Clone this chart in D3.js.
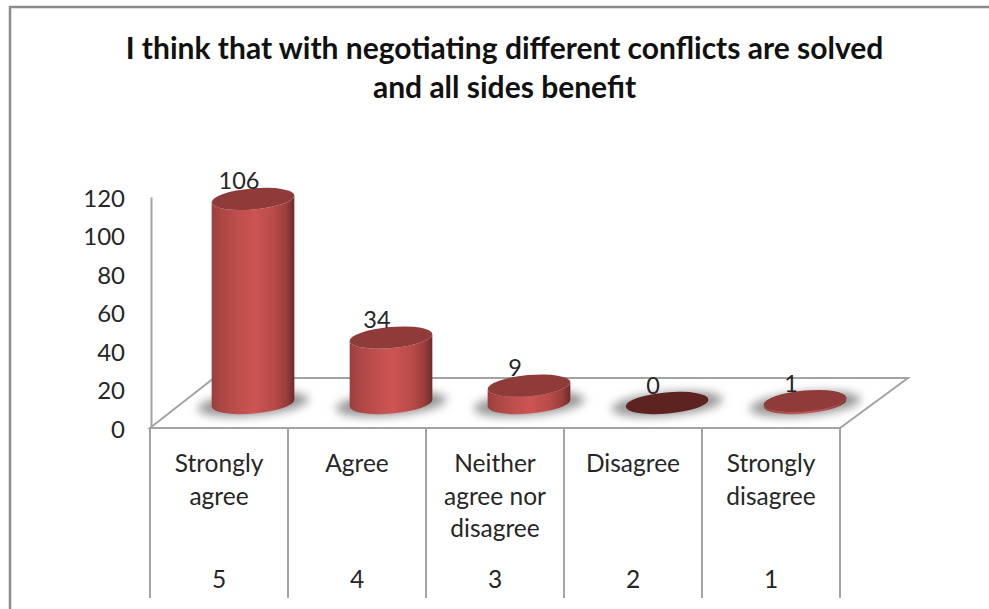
<!DOCTYPE html>
<html>
<head>
<meta charset="utf-8">
<script src="https://cdn.jsdelivr.net/npm/d3@7"></script>
<style>
  html, body { margin: 0; padding: 0; background: #fff; }
  svg { display: block; }
  text { font-family: Lato, "Open Sans", sans-serif; fill: #262626; }
</style>
</head>
<body>
<svg id="chart" width="989" height="609"></svg>
<script>
const titleLines = ["I think that with negotiating different conflicts are solved", "and all sides benefit"];
const categories = [
  ["Strongly", "agree"],
  ["Agree"],
  ["Neither", "agree nor", "disagree"],
  ["Disagree"],
  ["Strongly", "disagree"]
];
const ratings = ["5", "4", "3", "2", "1"];
const counts = [106, 34, 9, 0, 1];
const yTicks = [0, 20, 40, 60, 80, 100, 120];

const svg = d3.select("#chart");
const gridColor = "#a3a3a3";

const x = d3.scaleBand().domain(ratings).range([150, 840]);
const y = d3.scaleLinear().domain([0, 120]).range([428, 197]);

// Depth of the floor, and where the cylinders stand on it
const floorDepth = { dx: 64, dy: 50 };
const standX = 34, standY = 25;
const rx = 41.5, ry = 10.6, tilt = -5;
const tiltRad = tilt * Math.PI / 180;
const ex = rx * Math.cos(tiltRad), ey = rx * Math.sin(tiltRad);

const defs = svg.append("defs");
const grad = defs.append("linearGradient").attr("id", "side").attr("x1", 0).attr("x2", 1).attr("y1", 0).attr("y2", 0);
[[0, "#9a3e3c"], [0.1, "#aa4644"], [0.3, "#bd4e4c"], [0.52, "#cd5452"], [0.75, "#b84b49"], [0.9, "#9a3e3c"], [1, "#702a28"]]
  .forEach(([o, c]) => grad.append("stop").attr("offset", o).attr("stop-color", c));
defs.append("filter").attr("id", "soft").attr("x", "-30%").attr("y", "-100%").attr("width", "160%").attr("height", "300%")
  .append("feGaussianBlur").attr("stdDeviation", 5);

// Chart frame: only the top and left edges fall inside the page
svg.append("path")
  .attr("d", d3.line()([[989, 7], [10, 7], [10, 609]]))
  .attr("fill", "none").attr("stroke", "#8c8c8c").attr("stroke-width", 2.5);

// Title
svg.append("g").selectAll("text").data(titleLines).join("text")
  .attr("x", 504.5).attr("y", (d, i) => 59 + i * 38.5)
  .attr("text-anchor", "middle").attr("font-size", 30).attr("font-weight", 700)
  .style("fill", "#111").text(d => d);

// Floor parallelogram
const [x0, x1] = x.range();
const y0 = y(0);
svg.append("path")
  .attr("d", d3.line()([[x0, y0], [x0 + floorDepth.dx, y0 - floorDepth.dy], [x1 + floorDepth.dx + 4, y0 - floorDepth.dy], [x1, y0]]) + "Z")
  .attr("fill", "#fff").attr("stroke", gridColor).attr("stroke-width", 2);

// Value axis
const yAxis = svg.append("g").attr("transform", `translate(${x0 + 1},0)`)
  .call(d3.axisLeft(y).tickValues(yTicks).tickSize(0).tickPadding(26));
yAxis.select(".domain").attr("stroke", gridColor).attr("stroke-width", 2);
yAxis.selectAll("text").attr("font-size", 24).attr("dy", "0.38em").style("font-family", "Lato, sans-serif");

// Category table beneath the floor
const cuts = ratings.map(r => x(r)).concat([x1]);
svg.append("g").selectAll("line").data(cuts).join("line")
  .attr("x1", d => d).attr("x2", d => d).attr("y1", y0).attr("y2", 598)
  .attr("stroke", gridColor).attr("stroke-width", 2);

const cols = svg.append("g").selectAll("g").data(ratings).join("g")
  .attr("transform", d => `translate(${x(d) + x.bandwidth() / 2},0)`)
  .attr("text-anchor", "middle").attr("font-size", 24.5);
cols.selectAll("text.cat").data((d, i) => categories[i]).join("text")
  .attr("class", "cat").attr("y", (d, i) => 472 + i * 32.5).text(d => d);
cols.append("text").attr("y", 588).text(d => d);

// Cylinders
const items = ratings.map((r, i) => ({ r, v: counts[i], cx: x(r) + x.bandwidth() / 2 + standX }));
const baseY = y0 - standY;
const topY = d => y(d.v) - standY;

svg.append("g").selectAll("ellipse").data(items).join("ellipse")
  .attr("cx", d => d.cx).attr("cy", baseY + 1).attr("rx", rx + 14).attr("ry", ry + 1)
  .attr("transform", d => `rotate(${tilt} ${d.cx} ${baseY})`)
  .attr("fill", "#969696").attr("filter", "url(#soft)");

const bars = svg.append("g").selectAll("g").data(items).join("g");
bars.filter(d => d.v > 0).append("path")
  .attr("fill", "url(#side)")
  .attr("d", d => {
    const t = topY(d);
    return `M${d.cx - ex},${t - ey}L${d.cx - ex},${baseY - ey}` +
      `A${rx},${ry} ${tilt} 0 0 ${d.cx + ex},${baseY + ey}` +
      `L${d.cx + ex},${t + ey}` +
      `A${rx},${ry} ${tilt} 0 1 ${d.cx - ex},${t - ey}Z`;
  });
bars.append("ellipse")
  .attr("cx", d => d.cx).attr("cy", topY).attr("rx", rx).attr("ry", ry)
  .attr("transform", d => `rotate(${tilt} ${d.cx} ${topY(d)})`)
  .attr("fill", d => d.v === 0 ? "#5c2321" : "#8f3b39");

// Value labels
svg.append("g").selectAll("text").data(items).join("text")
  .attr("x", d => d.cx - 14).attr("y", d => topY(d) - 9.5)
  .attr("text-anchor", "middle").attr("font-size", 23.5).text(d => d.v);
</script>
</body>
</html>
